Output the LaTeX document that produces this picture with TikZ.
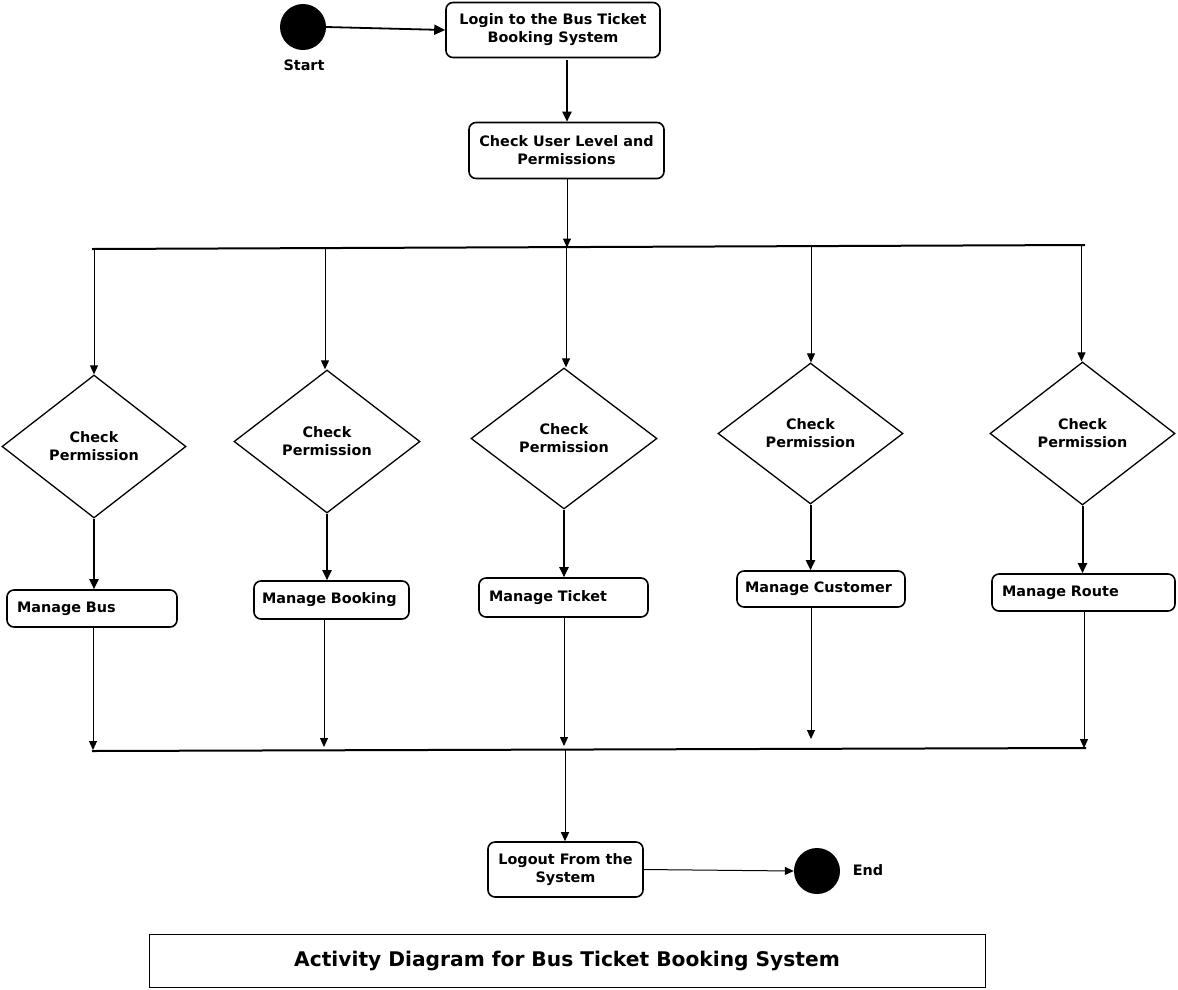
\documentclass[tikz,border=0pt]{standalone}
\usepackage{fontspec}
\setmainfont{DejaVu Sans}
\usetikzlibrary{shapes.geometric,arrows.meta}
\begin{document}
\begin{tikzpicture}[x=1pt,y=-1pt,
  act/.style={draw,line width=1.6pt,rounded corners=7pt,align=center,font=\bfseries\fontsize{14.4}{18}\selectfont,inner sep=0pt},
  mbox/.style={draw,line width=1.6pt,rounded corners=7pt,align=left,font=\bfseries\fontsize{14.4}{18}\selectfont,inner sep=0pt},
  dia/.style={draw,diamond,line width=1.3pt,align=center,font=\bfseries\fontsize{14.4}{18}\selectfont,inner sep=0pt},
  dot/.style={circle,fill=black,minimum size=46pt,inner sep=0pt},
  lbl/.style={font=\bfseries\fontsize{14.4}{18}\selectfont,inner sep=0pt},
  thick arr/.style={line width=2pt,-{Triangle[width=9pt,length=10pt]}},
  thin arr/.style={line width=1pt,-{Triangle[width=8pt,length=9pt]}},
  bar/.style={line width=2pt}
]
\useasboundingbox (0,0) rectangle (1178,989);
% start
\node[dot] (start) at (303,27) {};
\node[lbl] (startl) at (304,65) {Start};
\node[act,minimum width=214pt,minimum height=55pt] (login) at (553,30) {Login to the Bus Ticket\\Booking System};
\node[act,minimum width=195pt,minimum height=56pt] (check) at (566.5,150.5) {Check User Level and\\Permissions};
\draw[line width=1.8pt,-{Triangle[width=10pt,length=11pt]}] (start.east) -- (login.west);
\draw[thick arr] (567,60) -- (check.north -| 567,0);
% fork
\coordinate (fa) at (92,249);
\coordinate (fb) at (1085,245);
\draw[bar] (fa) -- (fb);
\coordinate (fc) at (567,247.5);
\draw[thin arr] (check.south -| fc) -- (fc);
% diamonds
\node[dia,minimum width=184pt,minimum height=143pt] (d1) at (94,446.5) {Check\\Permission};
\node[dia,minimum width=186pt,minimum height=143pt] (d2) at (327,441.5) {Check\\Permission};
\node[dia,minimum width=186pt,minimum height=141pt] (d3) at (564,438.5) {Check\\Permission};
\node[dia,minimum width=185pt,minimum height=141pt] (d4) at (810.5,433.5) {Check\\Permission};
\node[dia,minimum width=185pt,minimum height=143pt] (d5) at (1082.5,433.5) {Check\\Permission};
\coordinate (f1) at (94,249);
\coordinate (f2) at (325,248);
\coordinate (f3) at (566,247);
\coordinate (f4) at (811,246);
\coordinate (f5) at (1081.5,245);
\draw[thin arr] (f1) -- (f1 |- d1.north);
\draw[thin arr] (f2) -- (f2 |- d2.north);
\draw[thin arr] (f3) -- (f3 |- d3.north);
\draw[thin arr] (f4) -- (f4 |- d4.north);
\draw[thin arr] (f5) -- (f5 |- d5.north);
% manage boxes
\node[mbox,minimum width=170pt,minimum height=37pt,text width=150pt] (m1) at (92,608.5) {Manage Bus};
\node[mbox,minimum width=155pt,minimum height=38pt,text width=139pt] (m2) at (331.5,600) {Manage Booking};
\node[mbox,minimum width=169pt,minimum height=39pt,text width=149pt] (m3) at (563.5,597.5) {Manage Ticket};
\node[mbox,minimum width=168pt,minimum height=36pt,text width=152pt] (m4) at (821,589) {Manage Customer};
\node[mbox,minimum width=183pt,minimum height=37pt,text width=163pt] (m5) at (1083.5,592.5) {Manage Route};
\draw[thick arr] (d1.south) -- (d1.south |- m1.north);
\draw[thick arr] (d2.south) -- (d2.south |- m2.north);
\draw[thick arr] (d3.south) -- (d3.south |- m3.north);
\draw[thick arr] (d4.south) -- (d4.south |- m4.north);
\draw[thick arr] (d5.south) -- (d5.south |- m5.north);
% join
\coordinate (ja) at (92,751);
\coordinate (jb) at (1086,748);
\draw[bar] (ja) -- (jb);
\coordinate (j1) at (93,750);
\coordinate (j2) at (324,747);
\coordinate (j3) at (564,746);
\coordinate (j4) at (811,739);
\coordinate (j5) at (1084,748);
\draw[thin arr] (m1.south -| j1) -- (j1);
\draw[thin arr] (m2.south -| j2) -- (j2);
\draw[thin arr] (m3.south -| j3) -- (j3);
\draw[thin arr] (m4.south -| j4) -- (j4);
\draw[thin arr] (m5.south -| j5) -- (j5);
% logout
\node[act,minimum width=155pt,minimum height=55pt] (logout) at (565.5,869.5) {Logout From the\\System};
\coordinate (jc) at (565,750);
\draw[thin arr] (jc) -- (logout.north -| jc);
\node[dot] (end) at (817,871) {};
\node[lbl] (endl) at (868,870) {End};
\draw[thin arr] (logout.east) -- (end.west);
% title
\node[draw,line width=0.8pt,minimum width=836pt,minimum height=53pt,inner sep=0pt,font=\bfseries\fontsize{20.2}{24}\selectfont] (title) at (567,960.5) {Activity Diagram for Bus Ticket Booking System};
\end{tikzpicture}
\end{document}
